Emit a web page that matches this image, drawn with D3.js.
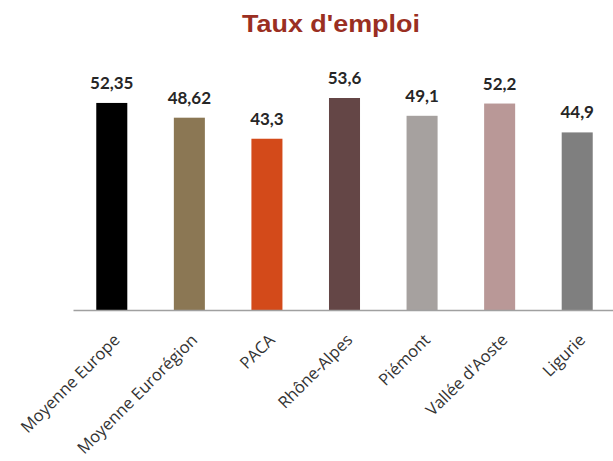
<!DOCTYPE html>
<html>
<head>
<meta charset="utf-8">
<script src="https://cdn.jsdelivr.net/npm/d3@7"></script>
<style>
  body { margin: 0; background: #fff; }
  svg { display: block; }
</style>
</head>
<body>
<svg width="613" height="461"></svg>
<script>
var categories = ["Moyenne Europe", "Moyenne Eurorégion", "PACA", "Rhône-Alpes", "Piémont", "Vallée d'Aoste", "Ligurie"];
var values = [52.35, 48.62, 43.3, 53.6, 49.1, 52.2, 44.9];
var labels = ["52,35", "48,62", "43,3", "53,6", "49,1", "52,2", "44,9"];
var colors = ["#000000", "#8b7754", "#d34a1a", "#644646", "#a6a19f", "#b99897", "#7f7f7f"];

var svg = d3.select("svg"),
    width = +svg.attr("width"),
    height = +svg.attr("height");

var x = d3.scaleBand()
    .domain(categories)
    .range([73, 616])
    .paddingInner(0.6)
    .paddingOuter(0.3);

var y = d3.scaleLinear()
    .domain([0, 53.6])
    .range([310, 98]);

// title
svg.append("text")
    .attr("x", 331)
    .attr("y", 32)
    .attr("text-anchor", "middle")
    .attr("font-family", "Liberation Sans, Arial, sans-serif")
    .attr("font-weight", "bold")
    .attr("font-size", 23)
    .attr("textLength", 178)
    .attr("lengthAdjust", "spacingAndGlyphs")
    .attr("fill", "#9a2f22")
    .text("Taux d'emploi");

// bars
svg.append("g")
    .selectAll("rect")
    .data(categories)
    .enter().append("rect")
    .attr("x", function (d) { return x(d); })
    .attr("y", function (d, i) { return y(values[i]); })
    .attr("width", x.bandwidth())
    .attr("height", function (d, i) { return y(0) - y(values[i]); })
    .attr("fill", function (d, i) { return colors[i]; });

// value labels
svg.append("g")
    .selectAll("text")
    .data(categories)
    .enter().append("text")
    .attr("x", function (d) { return x(d) + x.bandwidth() / 2; })
    .attr("y", function (d, i) { return y(values[i]) - 14; })
    .attr("text-anchor", "middle")
    .attr("font-family", "Lato, sans-serif")
    .attr("font-weight", "bold")
    .attr("font-size", 17)
    .attr("fill", "#262626")
    .text(function (d, i) { return labels[i]; });

// x axis
var xAxis = svg.append("g")
    .attr("transform", "translate(0," + y(0) + ")")
    .call(d3.axisBottom(x).tickSize(0).tickSizeOuter(0));

xAxis.select(".domain")
    .attr("stroke", "#a0a0a0")
    .attr("stroke-width", 1.5);

xAxis.selectAll("text")
    .attr("font-family", "Open Sans, sans-serif")
    .attr("font-size", 16.5)
    .attr("fill", "#333")
    .attr("text-anchor", "end")
    .attr("dy", null)
    .attr("y", 0)
    .attr("transform", "translate(9,31) rotate(-45)");
</script>
</body>
</html>
